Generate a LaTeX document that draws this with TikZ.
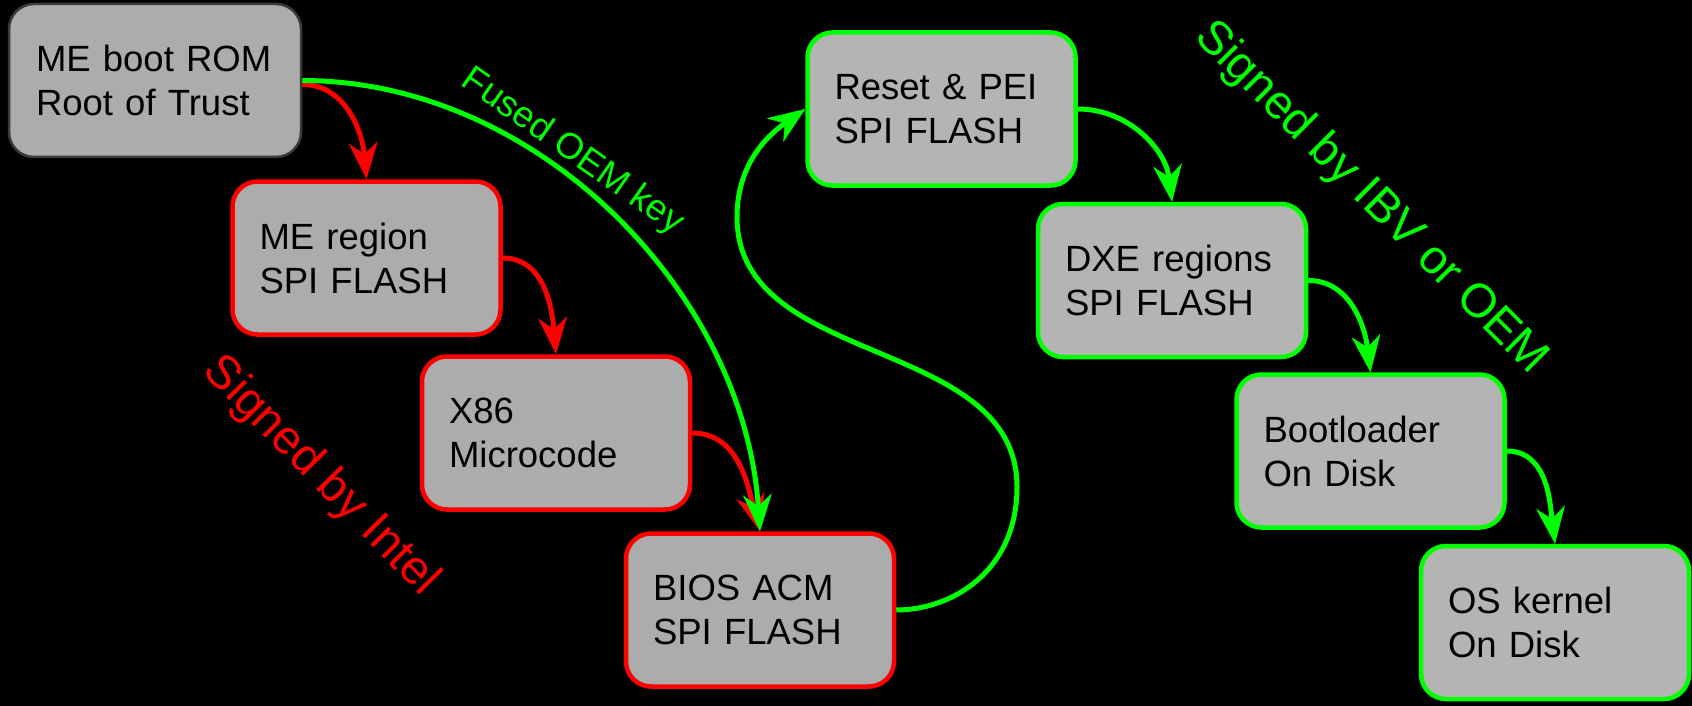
\documentclass[tikz,border=0pt]{standalone}
\usepackage{fontspec}
\setmainfont{Liberation Sans}
\usetikzlibrary{arrows.meta}

\definecolor{fillL}{HTML}{ACACAC}
\definecolor{fillR}{HTML}{B4B4B4}
\definecolor{edgeDark}{HTML}{3A3A3A}
\definecolor{sigRed}{HTML}{FF0000}
\definecolor{sigGreen}{HTML}{00FF00}

\begin{document}
\begin{tikzpicture}[x=1pt, y=1pt,
  stage/.style={rectangle, rounded corners=25pt, minimum height=153pt,
    text width=214pt, inner xsep=27pt, inner ysep=0pt, align=left,
    line width=4.5pt, text=black, font=\fontsize{36.5}{44}\selectfont},
  romstage/.style={stage, draw=edgeDark, fill=fillL, line width=2.5pt, text width=238pt},
  intelstage/.style={stage, draw=sigRed, fill=fillL},
  oemstage/.style={stage, draw=sigGreen, fill=fillR},
  tipshape/.style={-{Stealth[length=37pt, width=29pt, inset=12pt, line width=0.5pt]}},
  redlink/.style={tipshape, draw=sigRed, line width=5pt},
  greenlink/.style={tipshape, draw=sigGreen, line width=5pt},
  sign/.style={anchor=base, inner sep=0pt, font=\fontsize{47.5}{52}\selectfont},
]
% canvas
\fill[black] (0,0) rectangle (1692,-706);
\useasboundingbox (0,0) rectangle (1692,-706);

% boot chain stages
\node[romstage]   (rom)     at (155,-80.5)    {ME boot ROM\\Root of Trust};
\node[intelstage] (meregion) at (366.5,-258)  {ME region\\SPI FLASH};
\node[intelstage] (ucode)   at (556,-433)     {X86\\Microcode};
\node[intelstage] (acm)     at (760,-610)     {BIOS ACM\\SPI FLASH};
\node[oemstage]   (pei)     at (941.5,-109)   {Reset \& PEI\\SPI FLASH};
\node[oemstage]   (dxe)     at (1172,-280.5)  {DXE regions\\SPI FLASH};
\node[oemstage]   (loader)  at (1370.5,-451)  {Bootloader\\On Disk};
\node[oemstage]   (kernel)  at (1555,-622.5)  {OS kernel\\On Disk};

% turning points of the loop from the ACM up to PEI
\coordinate (loopR) at (1017,-487);
\coordinate (loopL) at (737,-217);

% Intel-signed chain
\draw[redlink] ([yshift=-4pt]rom.east) to[out=0, in=95] (meregion.north);
\draw[redlink] (meregion.east) to[out=0, in=95] (ucode.north);
\draw[redlink] (ucode.east) to[out=0, in=105] (acm.north);

% fused key check of the ACM
\draw[greenlink] (rom.east) to[out=0, in=94, out distance=235pt, in distance=240pt] (acm.north);

% OEM-signed chain
\draw[greenlink] (acm.east) to[out=0, in=-90, out distance=55pt, in distance=85pt] (loopR)
  to[out=90, in=-90] (loopL) to[out=90, in=215] (pei.west);
\draw[greenlink] (pei.east) to[out=0, in=97] (dxe.north);
\draw[greenlink] (dxe.east) to[out=0, in=97] (loader.north);
\draw[greenlink] (loader.east) to[out=0, in=97] (kernel.north);

% labels
\node[anchor=base, inner sep=0pt, font=\fontsize{36.5}{40}\selectfont, text=sigGreen, rotate=-35]
  (fused) at (567,-160) {Fused OEM key};
\node[sign, text=sigRed, rotate=-45.5] (intel) at (312,-485) {Signed by Intel};
\node[sign, text=sigGreen, rotate=-45] (ibv) at (1362,-207) {Signed by IBV or OEM};
\end{tikzpicture}
\end{document}
